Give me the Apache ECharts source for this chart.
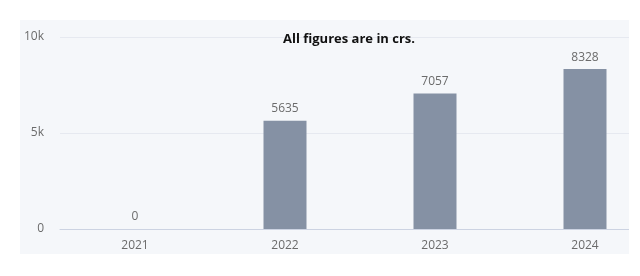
<!DOCTYPE html>
<html>
<head>
<meta charset="utf-8">
<script src="https://cdn.jsdelivr.net/npm/echarts@6/dist/echarts.min.js"></script>
<style>
html,body{margin:0;padding:0;background:#ffffff;overflow:hidden;width:640px;height:276px;}
#chart{width:670px;height:276px;}
</style>
</head>
<body>
<div id="chart"></div>
<script>
const categories = ['2021', '2022', '2023', '2024'];
const values = [0, 5635, 7057, 8328];
const yTickValues = [0, 5000, 10000];
const yTickLabels = ['0', '5k', '10k'];
const titleText = 'All figures are in crs.';

const chart = echarts.init(document.getElementById('chart'), null, {renderer: 'canvas'});
chart.setOption({
  animation: false,
  backgroundColor: '#ffffff',
  textStyle: {fontFamily: 'Open Sans'},
  title: {
    text: titleText,
    left: 344,
    top: 28,
    textAlign: 'center',
    textStyle: {fontFamily: 'Open Sans', fontWeight: 'bold', fontSize: 13, color: '#111111'}
  },
  graphic: [
    {type: 'rect', z: -100, silent: true, shape: {x: 20, y: 20, width: 609, height: 234}, style: {fill: '#f5f7fa'}},
    {type: 'rect', z: 100, silent: true, shape: {x: 629, y: 0, width: 41, height: 276}, style: {fill: '#ffffff'}}
  ],
  grid: {left: 60, top: 37, width: 600, height: 192, containLabel: false},
  xAxis: {
    type: 'category',
    data: categories,
    axisTick: {show: false},
    axisLine: {lineStyle: {color: '#ccd3e2', width: 1}},
    axisLabel: {color: '#6b6b6b', fontSize: 12, fontFamily: 'Open Sans', margin: 11}
  },
  yAxis: {
    type: 'value',
    min: 0,
    max: 10000,
    interval: 5000,
    axisLine: {show: false},
    axisTick: {show: false},
    splitLine: {lineStyle: {color: '#e6e9f0', width: 1}},
    axisLabel: {
      color: '#6b6b6b', fontSize: 12, fontFamily: 'Open Sans', margin: 16,
      formatter: function (v) { const i = yTickValues.indexOf(v); return i >= 0 ? yTickLabels[i] : ''; }
    }
  },
  series: [{
    type: 'bar',
    data: values,
    barWidth: 43,
    itemStyle: {color: '#8591a4'},
    label: {show: true, position: 'top', distance: 6, color: '#6b6b6b', fontSize: 12, fontFamily: 'Open Sans'}
  }]
});
</script>
</body>
</html>
